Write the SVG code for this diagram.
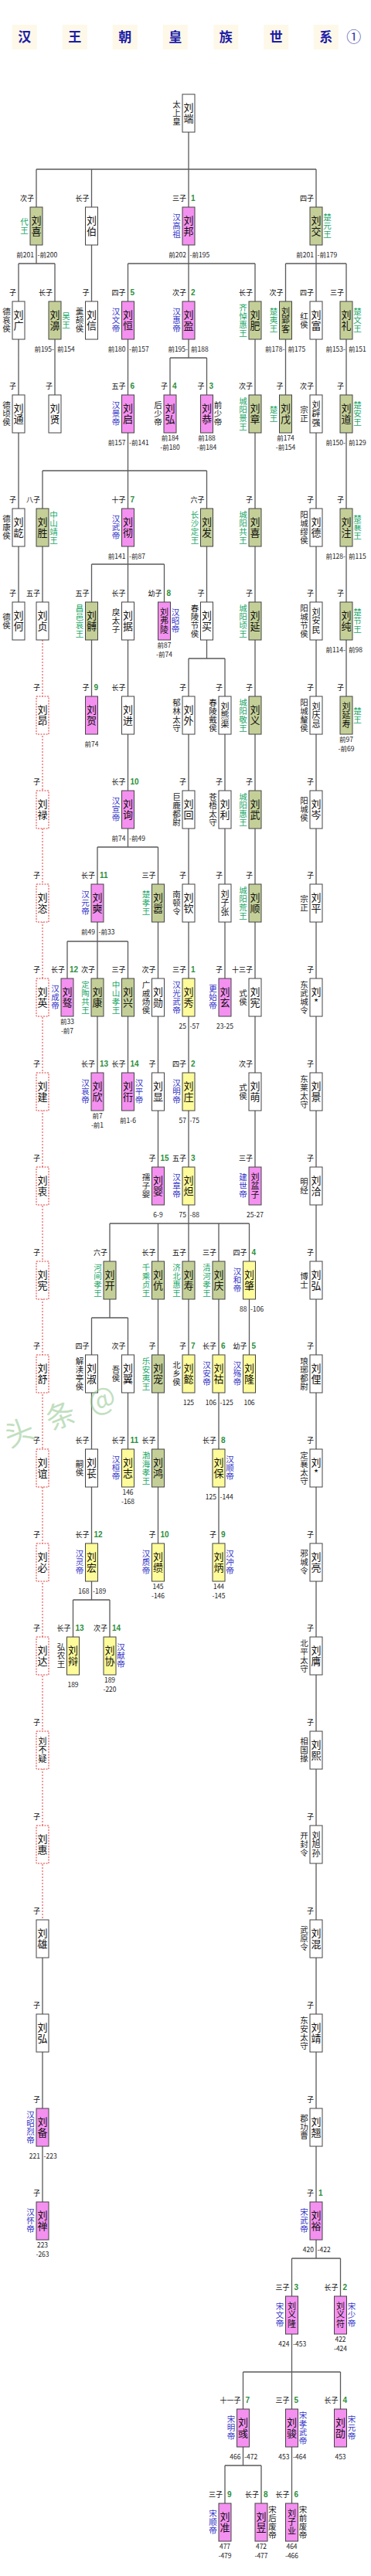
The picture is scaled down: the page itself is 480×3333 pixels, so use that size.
<svg xmlns="http://www.w3.org/2000/svg" width="480" height="3333" viewBox="0 0 480 3333">
<style>
rect{stroke:#444;stroke-width:1}
.w{fill:#fff}.p{fill:#f490f0}.g{fill:#c4cf98}.y{fill:#fdfb9a}
.d{fill:#fff;stroke:#e23a3a;stroke-dasharray:2 1.5}
text{font-family:"Noto Sans CJK SC","Liberation Sans",sans-serif}
.nm{font-size:13px;writing-mode:vertical-rl;text-orientation:upright;text-anchor:middle;fill:#111;letter-spacing:1px}
.n3{font-size:11px;letter-spacing:0.5px}
.sl{font-size:10.5px;writing-mode:vertical-rl;text-orientation:upright;text-anchor:middle;letter-spacing:0.5px}
.bk{fill:#222}.bl{fill:#3535c8}.gr{fill:#22a868}
.o{font-size:9px;text-anchor:end;fill:#111}
.num{font-size:10px;font-weight:bold;fill:#2d8f3c;font-family:"Liberation Sans",sans-serif}
.dl,.dr,.dc{font-size:8.5px;fill:#222}
.dl{text-anchor:end}.dc{text-anchor:middle}
.tt{font-size:17px;font-weight:bold;fill:#1c1ca8;text-anchor:middle;font-family:"Noto Sans CJK SC",serif}
.cell{fill:#fdf8e8;stroke:none}
</style>
<g id="title">
<rect class="cell" x="15.7" y="32" width="32" height="32"/><rect class="cell" x="80.7" y="32" width="32" height="32"/><rect class="cell" x="145.7" y="32" width="32" height="32"/><rect class="cell" x="210.7" y="32" width="32" height="32"/><rect class="cell" x="276.3" y="32" width="32" height="32"/><rect class="cell" x="341.3" y="32" width="32" height="32"/><rect class="cell" x="405.7" y="32" width="32" height="32"/>
<text class="tt" x="31.7" y="54">汉</text><text class="tt" x="96.7" y="54">王</text><text class="tt" x="161.7" y="54">朝</text><text class="tt" x="226.7" y="54">皇</text><text class="tt" x="292.3" y="54">族</text><text class="tt" x="357.3" y="54">世</text><text class="tt" x="421.7" y="54">系</text>
<text x="457.7" y="55" font-size="19" fill="#3a3aa8" text-anchor="middle" font-family="Liberation Serif,serif">①</text>
</g>
<g id="connectors" fill="none" stroke="#5a5a5a" stroke-width="1.3">
<path d="M244 171V268M47 219H409M47 219V268M118.5 219V268M409 219V268M47 317V341M24 341H71M24 341V390M71 341V390M118.5 317V390M244 317V390M165.5 341H330M165.5 341V390M330 341V390M409 317V390M369.5 341H448M369.5 341V390M448 341V390M24 439V779M71 439V511M165.5 439V1096M55 609H267.5M55 609V658M267.5 609V658M118.5 730H212.5M118.5 730V779M212.5 730V779M126 1096H204.5M126 1096V1144M204.5 1096V1144M244 439V463M220 463H267.5M220 463V511M267.5 463V511M330 439V1510M369.5 439V511M409 439V2922M377.5 2922H440.5M377.5 2922V2971M440.5 2922V2971M448 439V901M55 707V779M55 2533V2849M267.5 707V852M244 852H291M244 852V901M291 852V901M118.5 828V901M244 950V1632M142 1583H322.5M142 1583V1632M204.5 1583V1632M283 1583V1632M322.5 1583V1632M291 950V1266M126 1193V1388M87 1218H165.5M87 1218V1266M165.5 1218V1388M204.5 1193V1510M142 1681V1705M118.5 1705H165.5M118.5 1705V2070M165.5 1705V1875M204.5 1681V1997M244 1681V1753M283 1681V1997M322.5 1681V1753M94.5 2070H142M94.5 2070V2118M142 2070V2118M377.5 3020V3239M314.5 3069H440.5M314.5 3069V3190M440.5 3069V3117M291 3190H338M291 3190V3239M338 3190V3239"/>
<path d="M55 828V2484" stroke="#e23a3a" stroke-width="1" stroke-dasharray="2 2"/>
</g>
<g id="nodes">
<g id="liuduan" transform="translate(244,122)"><rect class="w" x="-8" width="16" height="49"/><text class="nm" y="24.5">刘端</text><text class="sl bk" x="-15.5" y="24.5">太上皇</text></g>
<g id="liuxi-dai" transform="translate(47,268)"><rect class="g" x="-8" width="16" height="49"/><text class="nm" y="24.5">刘喜</text><text class="sl gr" x="-15.5" y="24.5">代王</text><text class="o" x="-3" y="-8">次子</text><text class="dl" x="-3" y="65">前201</text><text class="dr" x="1.5" y="65">-前200</text></g>
<g id="liubo" transform="translate(118.5,268)"><rect class="w" x="-8" width="16" height="49"/><text class="nm" y="24.5">刘伯</text><text class="o" x="-3" y="-8">长子</text></g>
<g id="liubang" transform="translate(244,268)"><rect class="p" x="-8" width="16" height="49"/><text class="nm" y="24.5">刘邦</text><text class="sl bl" x="-15.5" y="24.5">汉高祖</text><text class="o" x="-3" y="-8">三子</text><text class="num" x="3" y="-8">1</text><text class="dl" x="-3" y="65">前202</text><text class="dr" x="1.5" y="65">-前195</text></g>
<g id="liujiao" transform="translate(409,268)"><rect class="g" x="-8" width="16" height="49"/><text class="nm" y="24.5">刘交</text><text class="sl gr" x="14.5" y="24.5">楚元王</text><text class="o" x="-3" y="-8">四子</text><text class="dl" x="-3" y="65">前201</text><text class="dr" x="1.5" y="65">-前179</text></g>

<g id="liuguang" transform="translate(24,390)"><rect class="w" x="-8" width="16" height="49"/><text class="nm" y="24.5">刘广</text><text class="sl bk" x="-15.5" y="24.5">德哀侯</text><text class="o" x="-3" y="-8">子</text></g>
<g id="liubi" transform="translate(71,390)"><rect class="g" x="-8" width="16" height="49"/><text class="nm" y="24.5">刘濞</text><text class="sl gr" x="14.5" y="24.5">吴王</text><text class="o" x="-3" y="-8">长子</text><text class="dl" x="-1" y="65">前195-</text><text class="dr" x="3" y="65">前154</text></g>
<g id="liuxin" transform="translate(118.5,390)"><rect class="w" x="-8" width="16" height="49"/><text class="nm" y="24.5">刘信</text><text class="sl bk" x="-15.5" y="24.5">羹颉侯</text><text class="o" x="-3" y="-8">子</text></g>
<g id="liuheng" transform="translate(165.5,390)"><rect class="p" x="-8" width="16" height="49"/><text class="nm" y="24.5">刘恒</text><text class="sl bl" x="-15.5" y="24.5">汉文帝</text><text class="o" x="-3" y="-8">四子</text><text class="num" x="3" y="-8">5</text><text class="dl" x="-3" y="65">前180</text><text class="dr" x="1.5" y="65">-前157</text></g>
<g id="liuying" transform="translate(244,390)"><rect class="p" x="-8" width="16" height="49"/><text class="nm" y="24.5">刘盈</text><text class="sl bl" x="-15.5" y="24.5">汉惠帝</text><text class="o" x="-3" y="-8">次子</text><text class="num" x="3" y="-8">2</text><text class="dl" x="-1" y="65">前195-</text><text class="dr" x="3" y="65">前188</text></g>
<g id="liufei" transform="translate(330,390)"><rect class="g" x="-8" width="16" height="49"/><text class="nm" y="24.5">刘肥</text><text class="sl gr" x="-15.5" y="24.5">齐悼惠王</text><text class="o" x="-3" y="-8">长子</text></g>
<g id="liuyingke" transform="translate(369.5,390)"><rect class="g" x="-8" width="16" height="49"/><text class="nm n3" y="24.5">刘郢客</text><text class="sl gr" x="-15.5" y="24.5">楚夷王</text><text class="o" x="-3" y="-8">次子</text><text class="dl" x="-1" y="65">前178-</text><text class="dr" x="3" y="65">前175</text></g>
<g id="liufu" transform="translate(409,390)"><rect class="w" x="-8" width="16" height="49"/><text class="nm" y="24.5">刘富</text><text class="sl bk" x="-15.5" y="24.5">红侯</text><text class="o" x="-3" y="-8">四子</text></g>
<g id="liuli" transform="translate(448,390)"><rect class="g" x="-8" width="16" height="49"/><text class="nm" y="24.5">刘礼</text><text class="sl gr" x="14.5" y="24.5">楚文王</text><text class="o" x="-3" y="-8">三子</text><text class="dl" x="-1" y="65">前153-</text><text class="dr" x="3" y="65">前151</text></g>

<g id="liutong" transform="translate(24,511)"><rect class="w" x="-8" width="16" height="49"/><text class="nm" y="24.5">刘通</text><text class="sl bk" x="-15.5" y="24.5">德顷侯</text><text class="o" x="-3" y="-8">子</text></g>
<g id="liuxian-wu" transform="translate(71,511)"><rect class="w" x="-8" width="16" height="49"/><text class="nm" y="24.5">刘贤</text><text class="o" x="-3" y="-8">子</text></g>
<g id="liuqi" transform="translate(165.5,511)"><rect class="p" x="-8" width="16" height="49"/><text class="nm" y="24.5">刘启</text><text class="sl bl" x="-15.5" y="24.5">汉景帝</text><text class="o" x="-3" y="-8">五子</text><text class="num" x="3" y="-8">6</text><text class="dl" x="-3" y="65">前157</text><text class="dr" x="1.5" y="65">-前141</text></g>
<g id="liuhong-hou" transform="translate(220,511)"><rect class="p" x="-8" width="16" height="49"/><text class="nm" y="24.5">刘弘</text><text class="sl bk" x="-15.5" y="24.5">后少帝</text><text class="o" x="-3" y="-8">子</text><text class="num" x="3" y="-8">4</text><text class="dc" y="59">前184</text><text class="dc" y="70.7">-前180</text></g>
<g id="liugong" transform="translate(267.5,511)"><rect class="p" x="-8" width="16" height="49"/><text class="nm" y="24.5">刘恭</text><text class="sl bk" x="14.5" y="24.5">前少帝</text><text class="o" x="-3" y="-8">子</text><text class="num" x="3" y="-8">3</text><text class="dc" y="59">前188</text><text class="dc" y="70.7">-前184</text></g>
<g id="liuzhang" transform="translate(330,511)"><rect class="g" x="-8" width="16" height="49"/><text class="nm" y="24.5">刘章</text><text class="sl gr" x="-15.5" y="24.5">城阳景王</text><text class="o" x="-3" y="-8">次子</text></g>
<g id="liuwu-chu" transform="translate(369.5,511)"><rect class="g" x="-8" width="16" height="49"/><text class="nm" y="24.5">刘戊</text><text class="sl gr" x="-15.5" y="24.5">楚王</text><text class="o" x="-3" y="-8">子</text><text class="dc" y="59">前174</text><text class="dc" y="70.7">-前154</text></g>
<g id="liupiqiang" transform="translate(409,511)"><rect class="w" x="-8" width="16" height="49"/><text class="nm n3" y="24.5">刘辟强</text><text class="sl bk" x="-15.5" y="24.5">宗正</text><text class="o" x="-3" y="-8">次子</text></g>
<g id="liudao" transform="translate(448,511)"><rect class="g" x="-8" width="16" height="49"/><text class="nm" y="24.5">刘道</text><text class="sl gr" x="14.5" y="24.5">楚安王</text><text class="o" x="-3" y="-8">子</text><text class="dl" x="-1" y="65">前150-</text><text class="dr" x="3" y="65">前129</text></g>

<g id="liuhe-kang" transform="translate(24,658)"><rect class="w" x="-8" width="16" height="49"/><text class="nm" y="24.5">刘龁</text><text class="sl bk" x="-15.5" y="24.5">德康侯</text><text class="o" x="-3" y="-8">子</text></g>
<g id="liusheng" transform="translate(55,658)"><rect class="g" x="-8" width="16" height="49"/><text class="nm" y="24.5">刘胜</text><text class="sl gr" x="14.5" y="24.5">中山靖王</text><text class="o" x="-3" y="-8">八子</text></g>
<g id="liuche" transform="translate(165.5,658)"><rect class="p" x="-8" width="16" height="49"/><text class="nm" y="24.5">刘彻</text><text class="sl bl" x="-15.5" y="24.5">汉武帝</text><text class="o" x="-3" y="-8">十子</text><text class="num" x="3" y="-8">7</text><text class="dl" x="-3" y="65">前141</text><text class="dr" x="1.5" y="65">-前87</text></g>
<g id="liufa" transform="translate(267.5,658)"><rect class="g" x="-8" width="16" height="49"/><text class="nm" y="24.5">刘发</text><text class="sl gr" x="-15.5" y="24.5">长沙定王</text><text class="o" x="-3" y="-8">六子</text></g>
<g id="liuxi-cy" transform="translate(330,658)"><rect class="g" x="-8" width="16" height="49"/><text class="nm" y="24.5">刘喜</text><text class="sl gr" x="-15.5" y="24.5">城阳共王</text><text class="o" x="-3" y="-8">子</text></g>
<g id="liude" transform="translate(409,658)"><rect class="w" x="-8" width="16" height="49"/><text class="nm" y="24.5">刘德</text><text class="sl bk" x="-15.5" y="24.5">阳城缪侯</text><text class="o" x="-3" y="-8">子</text></g>
<g id="liuzhu" transform="translate(448,658)"><rect class="g" x="-8" width="16" height="49"/><text class="nm" y="24.5">刘注</text><text class="sl gr" x="14.5" y="24.5">楚襄王</text><text class="o" x="-3" y="-8">子</text><text class="dl" x="-1" y="65">前128-</text><text class="dr" x="3" y="65">前115</text></g>

<g id="liuhe" transform="translate(24,779)"><rect class="w" x="-8" width="16" height="49"/><text class="nm" y="24.5">刘何</text><text class="sl bk" x="-15.5" y="24.5">德侯</text><text class="o" x="-3" y="-8">子</text></g>
<g id="liuzhen" transform="translate(55,779)"><rect class="w" x="-8" width="16" height="49"/><text class="nm" y="24.5">刘贞</text><text class="o" x="-3" y="-8">五子</text></g>
<g id="liubo-cy" transform="translate(118.5,779)"><rect class="g" x="-8" width="16" height="49"/><text class="nm" y="24.5">刘髆</text><text class="sl gr" x="-15.5" y="24.5">昌邑哀王</text><text class="o" x="-3" y="-8">五子</text></g>
<g id="liuju" transform="translate(165.5,779)"><rect class="w" x="-8" width="16" height="49"/><text class="nm" y="24.5">刘据</text><text class="sl bk" x="-15.5" y="24.5">戾太子</text><text class="o" x="-3" y="-8">长子</text></g>
<g id="liufuling" transform="translate(212.5,779)"><rect class="p" x="-8" width="16" height="49"/><text class="nm n3" y="24.5">刘弗陵</text><text class="sl bl" x="14.5" y="24.5">汉昭帝</text><text class="o" x="-3" y="-8">幼子</text><text class="num" x="3" y="-8">8</text><text class="dc" y="59">前87</text><text class="dc" y="70.7">-前74</text></g>
<g id="liumai" transform="translate(267.5,779)"><rect class="w" x="-8" width="16" height="49"/><text class="nm" y="24.5">刘买</text><text class="sl bk" x="-15.5" y="24.5">春陵节侯</text><text class="o" x="-3" y="-8">子</text></g>
<g id="liuyan" transform="translate(330,779)"><rect class="g" x="-8" width="16" height="49"/><text class="nm" y="24.5">刘延</text><text class="sl gr" x="-15.5" y="24.5">城阳顷王</text><text class="o" x="-3" y="-8">子</text></g>
<g id="liuanmin" transform="translate(409,779)"><rect class="w" x="-8" width="16" height="49"/><text class="nm n3" y="24.5">刘安民</text><text class="sl bk" x="-15.5" y="24.5">阳城节侯</text><text class="o" x="-3" y="-8">子</text></g>
<g id="liuchun" transform="translate(448,779)"><rect class="g" x="-8" width="16" height="49"/><text class="nm" y="24.5">刘纯</text><text class="sl gr" x="14.5" y="24.5">楚节王</text><text class="o" x="-3" y="-8">子</text><text class="dl" x="-1" y="65">前114-</text><text class="dr" x="3" y="65">前98</text></g>

<g id="liuang" transform="translate(55,901)"><rect class="d" x="-8" width="16" height="49"/><text class="nm" y="24.5">刘昂</text><text class="o" x="-3" y="-8">子</text></g>
<g id="liuhe-9" transform="translate(118.5,901)"><rect class="p" x="-8" width="16" height="49"/><text class="nm" y="24.5">刘贺</text><text class="o" x="-3" y="-8">子</text><text class="num" x="3" y="-8">9</text><text class="dc" y="65">前74</text></g>
<g id="liujin" transform="translate(165.5,901)"><rect class="w" x="-8" width="16" height="49"/><text class="nm" y="24.5">刘进</text><text class="o" x="-3" y="-8">长子</text></g>
<g id="liuwai" transform="translate(244,901)"><rect class="w" x="-8" width="16" height="49"/><text class="nm" y="24.5">刘外</text><text class="sl bk" x="-15.5" y="24.5">郁林太守</text><text class="o" x="-3" y="-8">子</text></g>
<g id="liuxiongqu" transform="translate(291,901)"><rect class="w" x="-8" width="16" height="49"/><text class="nm n3" y="24.5">刘熊渠</text><text class="sl bk" x="-15.5" y="24.5">春陵戴侯</text><text class="o" x="-3" y="-8">子</text></g>
<g id="liuyi" transform="translate(330,901)"><rect class="g" x="-8" width="16" height="49"/><text class="nm" y="24.5">刘义</text><text class="sl gr" x="-15.5" y="24.5">城阳敬王</text><text class="o" x="-3" y="-8">子</text></g>
<g id="liuqingji" transform="translate(409,901)"><rect class="w" x="-8" width="16" height="49"/><text class="nm n3" y="24.5">刘庆忌</text><text class="sl bk" x="-15.5" y="24.5">阳城釐侯</text><text class="o" x="-3" y="-8">子</text></g>
<g id="liuyanshou" transform="translate(448,901)"><rect class="g" x="-8" width="16" height="49"/><text class="nm n3" y="24.5">刘延寿</text><text class="sl gr" x="14.5" y="24.5">楚王</text><text class="o" x="-3" y="-8">子</text><text class="dc" y="59">前97</text><text class="dc" y="70.7">-前69</text></g>

<g id="liulu" transform="translate(55,1023)"><rect class="d" x="-8" width="16" height="49"/><text class="nm" y="24.5">刘禄</text><text class="o" x="-3" y="-8">子</text></g>
<g id="liuxun" transform="translate(165.5,1023)"><rect class="p" x="-8" width="16" height="49"/><text class="nm" y="24.5">刘询</text><text class="sl bl" x="-15.5" y="24.5">汉宣帝</text><text class="o" x="-3" y="-8">长子</text><text class="num" x="3" y="-8">10</text><text class="dl" x="-3" y="65">前74</text><text class="dr" x="1.5" y="65">-前49</text></g>
<g id="liuhui-jl" transform="translate(244,1023)"><rect class="w" x="-8" width="16" height="49"/><text class="nm" y="24.5">刘回</text><text class="sl bk" x="-15.5" y="24.5">巨鹿都尉</text><text class="o" x="-3" y="-8">子</text></g>
<g id="liuli-cw" transform="translate(291,1023)"><rect class="w" x="-8" width="16" height="49"/><text class="nm" y="24.5">刘利</text><text class="sl bk" x="-15.5" y="24.5">苍梧太守</text><text class="o" x="-3" y="-8">子</text></g>
<g id="liuwu" transform="translate(330,1023)"><rect class="g" x="-8" width="16" height="49"/><text class="nm" y="24.5">刘武</text><text class="sl gr" x="-15.5" y="24.5">城阳惠王</text><text class="o" x="-3" y="-8">子</text></g>
<g id="liucen" transform="translate(409,1023)"><rect class="w" x="-8" width="16" height="49"/><text class="nm" y="24.5">刘岑</text><text class="sl bk" x="-15.5" y="24.5">阳城侯</text><text class="o" x="-3" y="-8">子</text></g>

<g id="liuzi" transform="translate(55,1144)"><rect class="d" x="-8" width="16" height="49"/><text class="nm" y="24.5">刘恣</text><text class="o" x="-3" y="-8">子</text></g>
<g id="liushi" transform="translate(126,1144)"><rect class="p" x="-8" width="16" height="49"/><text class="nm" y="24.5">刘奭</text><text class="sl bl" x="-15.5" y="24.5">汉元帝</text><text class="o" x="-3" y="-8">长子</text><text class="num" x="3" y="-8">11</text><text class="dl" x="-3" y="65">前49</text><text class="dr" x="1.5" y="65">-前33</text></g>
<g id="liuxiao" transform="translate(204.5,1144)"><rect class="g" x="-8" width="16" height="49"/><text class="nm" y="24.5">刘嚣</text><text class="sl gr" x="-15.5" y="24.5">楚孝王</text><text class="o" x="-3" y="-8">三子</text></g>
<g id="liuqin" transform="translate(244,1144)"><rect class="w" x="-8" width="16" height="49"/><text class="nm" y="24.5">刘钦</text><text class="sl bk" x="-15.5" y="24.5">南顿令</text><text class="o" x="-3" y="-8">子</text></g>
<g id="liuzizhang" transform="translate(291,1144)"><rect class="w" x="-8" width="16" height="49"/><text class="nm n3" y="24.5">刘子张</text><text class="o" x="-3" y="-8">子</text></g>
<g id="liushun" transform="translate(330,1144)"><rect class="g" x="-8" width="16" height="49"/><text class="nm" y="24.5">刘顺</text><text class="sl gr" x="-15.5" y="24.5">城阳荒王</text><text class="o" x="-3" y="-8">子</text></g>
<g id="liuping" transform="translate(409,1144)"><rect class="w" x="-8" width="16" height="49"/><text class="nm" y="24.5">刘平</text><text class="sl bk" x="-15.5" y="24.5">宗正</text><text class="o" x="-3" y="-8">子</text></g>

<g id="liuying-2" transform="translate(55,1266)"><rect class="d" x="-8" width="16" height="49"/><text class="nm" y="24.5">刘英</text><text class="o" x="-3" y="-8">子</text></g>
<g id="liuao" transform="translate(87,1266)"><rect class="p" x="-8" width="16" height="49"/><text class="nm" y="24.5">刘骜</text><text class="sl bl" x="-15.5" y="24.5">汉成帝</text><text class="o" x="-3" y="-8">长子</text><text class="num" x="3" y="-8">12</text><text class="dc" y="59">前33</text><text class="dc" y="70.7">-前7</text></g>
<g id="liukang" transform="translate(126,1266)"><rect class="g" x="-8" width="16" height="49"/><text class="nm" y="24.5">刘康</text><text class="sl gr" x="-15.5" y="24.5">定陶共王</text><text class="o" x="-3" y="-8">次子</text></g>
<g id="liuxing" transform="translate(165.5,1266)"><rect class="g" x="-8" width="16" height="49"/><text class="nm" y="24.5">刘兴</text><text class="sl gr" x="-15.5" y="24.5">中山孝王</text><text class="o" x="-3" y="-8">三子</text></g>
<g id="liuxun-gq" transform="translate(204.5,1266)"><rect class="w" x="-8" width="16" height="49"/><text class="nm" y="24.5">刘勋</text><text class="sl bk" x="-15.5" y="24.5">广戚炀侯</text><text class="o" x="-3" y="-8">次子</text></g>
<g id="liuxiu" transform="translate(244,1266)"><rect class="y" x="-8" width="16" height="49"/><text class="nm" y="24.5">刘秀</text><text class="sl bl" x="-15.5" y="24.5">汉光武帝</text><text class="o" x="-3" y="-8">三子</text><text class="num" x="3" y="-8">1</text><text class="dl" x="-3" y="65">25</text><text class="dr" x="1.5" y="65">-57</text></g>
<g id="liuxuan" transform="translate(291,1266)"><rect class="p" x="-8" width="16" height="49"/><text class="nm" y="24.5">刘玄</text><text class="sl bl" x="-15.5" y="24.5">更始帝</text><text class="o" x="-3" y="-8">子</text><text class="dc" y="65">23-25</text></g>
<g id="liuxian-shi" transform="translate(330,1266)"><rect class="w" x="-8" width="16" height="49"/><text class="nm" y="24.5">刘宪</text><text class="sl bk" x="-15.5" y="24.5">式侯</text><text class="o" x="-3" y="-8">十三子</text></g>
<g id="liu-star-1" transform="translate(409,1266)"><rect class="w" x="-8" width="16" height="49"/><text class="nm" y="24.5">刘*</text><text class="sl bk" x="-15.5" y="24.5">东武城令</text><text class="o" x="-3" y="-8">子</text></g>

<g id="liujian" transform="translate(55,1388)"><rect class="d" x="-8" width="16" height="49"/><text class="nm" y="24.5">刘建</text><text class="o" x="-3" y="-8">子</text></g>
<g id="liuxin-ai" transform="translate(126,1388)"><rect class="p" x="-8" width="16" height="49"/><text class="nm" y="24.5">刘欣</text><text class="sl bl" x="-15.5" y="24.5">汉哀帝</text><text class="o" x="-3" y="-8">长子</text><text class="num" x="3" y="-8">13</text><text class="dc" y="59">前7</text><text class="dc" y="70.7">-前1</text></g>
<g id="liukan" transform="translate(165.5,1388)"><rect class="p" x="-8" width="16" height="49"/><text class="nm" y="24.5">刘衎</text><text class="sl bl" x="14.5" y="24.5">汉平帝</text><text class="o" x="-3" y="-8">长子</text><text class="num" x="3" y="-8">14</text><text class="dc" y="65">前1-6</text></g>
<g id="liuxian-2" transform="translate(204.5,1388)"><rect class="w" x="-8" width="16" height="49"/><text class="nm" y="24.5">刘显</text><text class="o" x="-3" y="-8">子</text></g>
<g id="liuzhuang" transform="translate(244,1388)"><rect class="y" x="-8" width="16" height="49"/><text class="nm" y="24.5">刘庄</text><text class="sl bl" x="-15.5" y="24.5">汉明帝</text><text class="o" x="-3" y="-8">四子</text><text class="num" x="3" y="-8">2</text><text class="dl" x="-3" y="65">57</text><text class="dr" x="1.5" y="65">-75</text></g>
<g id="liumeng" transform="translate(330,1388)"><rect class="w" x="-8" width="16" height="49"/><text class="nm" y="24.5">刘萌</text><text class="sl bk" x="-15.5" y="24.5">式侯</text><text class="o" x="-3" y="-8">次子</text></g>
<g id="liujing" transform="translate(409,1388)"><rect class="w" x="-8" width="16" height="49"/><text class="nm" y="24.5">刘景</text><text class="sl bk" x="-15.5" y="24.5">东莱太守</text><text class="o" x="-3" y="-8">子</text></g>

<g id="liuzhong" transform="translate(55,1510)"><rect class="d" x="-8" width="16" height="49"/><text class="nm" y="24.5">刘衷</text><text class="o" x="-3" y="-8">子</text></g>
<g id="liuying-ruzi" transform="translate(204.5,1510)"><rect class="p" x="-8" width="16" height="49"/><text class="nm" y="24.5">刘婴</text><text class="sl bk" x="-15.5" y="24.5">孺子婴</text><text class="o" x="-3" y="-8">子</text><text class="num" x="3" y="-8">15</text><text class="dc" y="65">6-9</text></g>
<g id="liuda" transform="translate(244,1510)"><rect class="y" x="-8" width="16" height="49"/><text class="nm" y="24.5">刘炟</text><text class="sl bl" x="-15.5" y="24.5">汉章帝</text><text class="o" x="-3" y="-8">五子</text><text class="num" x="3" y="-8">3</text><text class="dl" x="-3" y="65">75</text><text class="dr" x="1.5" y="65">-88</text></g>
<g id="liupenzi" transform="translate(330,1510)"><rect class="p" x="-8" width="16" height="49"/><text class="nm n3" y="24.5">刘盆子</text><text class="sl bl" x="-15.5" y="24.5">建世帝</text><text class="o" x="-3" y="-8">三子</text><text class="dc" y="65">25-27</text></g>
<g id="liuqia" transform="translate(409,1510)"><rect class="w" x="-8" width="16" height="49"/><text class="nm" y="24.5">刘洽</text><text class="sl bk" x="-15.5" y="24.5">明经</text><text class="o" x="-3" y="-8">子</text></g>

<g id="liuxian-3" transform="translate(55,1632)"><rect class="d" x="-8" width="16" height="49"/><text class="nm" y="24.5">刘宪</text><text class="o" x="-3" y="-8">子</text></g>
<g id="liukai" transform="translate(142,1632)"><rect class="g" x="-8" width="16" height="49"/><text class="nm" y="24.5">刘开</text><text class="sl gr" x="-15.5" y="24.5">河间孝王</text><text class="o" x="-3" y="-8">六子</text></g>
<g id="liukang-2" transform="translate(204.5,1632)"><rect class="g" x="-8" width="16" height="49"/><text class="nm" y="24.5">刘伉</text><text class="sl gr" x="-15.5" y="24.5">千乘贞王</text><text class="o" x="-3" y="-8">长子</text></g>
<g id="liushou" transform="translate(244,1632)"><rect class="g" x="-8" width="16" height="49"/><text class="nm" y="24.5">刘寿</text><text class="sl gr" x="-15.5" y="24.5">济北惠王</text><text class="o" x="-3" y="-8">五子</text></g>
<g id="liuqing" transform="translate(283,1632)"><rect class="g" x="-8" width="16" height="49"/><text class="nm" y="24.5">刘庆</text><text class="sl gr" x="-15.5" y="24.5">清河孝王</text><text class="o" x="-3" y="-8">三子</text></g>
<g id="liuzhao" transform="translate(322.5,1632)"><rect class="y" x="-8" width="16" height="49"/><text class="nm" y="24.5">刘肇</text><text class="sl bl" x="-15.5" y="24.5">汉和帝</text><text class="o" x="-3" y="-8">四子</text><text class="num" x="3" y="-8">4</text><text class="dl" x="-3" y="65">88</text><text class="dr" x="1.5" y="65">-106</text></g>
<g id="liuhong-bs" transform="translate(409,1632)"><rect class="w" x="-8" width="16" height="49"/><text class="nm" y="24.5">刘弘</text><text class="sl bk" x="-15.5" y="24.5">博士</text><text class="o" x="-3" y="-8">子</text></g>

<g id="liushu" transform="translate(55,1753)"><rect class="d" x="-8" width="16" height="49"/><text class="nm" y="24.5">刘舒</text><text class="o" x="-3" y="-8">子</text></g>
<g id="liushu-jd" transform="translate(118.5,1753)"><rect class="w" x="-8" width="16" height="49"/><text class="nm" y="24.5">刘淑</text><text class="sl bk" x="-15.5" y="24.5">解渎亭侯</text><text class="o" x="-3" y="-8">四子</text></g>
<g id="liuyi-wu" transform="translate(165.5,1753)"><rect class="w" x="-8" width="16" height="49"/><text class="nm" y="24.5">刘翼</text><text class="sl bk" x="-15.5" y="24.5">吾侯</text><text class="o" x="-3" y="-8">次子</text></g>
<g id="liuchong" transform="translate(204.5,1753)"><rect class="g" x="-8" width="16" height="49"/><text class="nm" y="24.5">刘宠</text><text class="sl gr" x="-15.5" y="24.5">乐安夷王</text><text class="o" x="-3" y="-8">子</text></g>
<g id="liuyi-bx" transform="translate(244,1753)"><rect class="y" x="-8" width="16" height="49"/><text class="nm" y="24.5">刘懿</text><text class="sl bk" x="-15.5" y="24.5">北乡侯</text><text class="o" x="-3" y="-8">子</text><text class="num" x="3" y="-8">7</text><text class="dc" y="65">125</text></g>
<g id="liuhu" transform="translate(283,1753)"><rect class="y" x="-8" width="16" height="49"/><text class="nm" y="24.5">刘祜</text><text class="sl bl" x="-15.5" y="24.5">汉安帝</text><text class="o" x="-3" y="-8">长子</text><text class="num" x="3" y="-8">6</text><text class="dl" x="-3" y="65">106</text><text class="dr" x="1.5" y="65">-125</text></g>
<g id="liulong" transform="translate(322.5,1753)"><rect class="y" x="-8" width="16" height="49"/><text class="nm" y="24.5">刘隆</text><text class="sl bl" x="-15.5" y="24.5">汉殇帝</text><text class="o" x="-3" y="-8">幼子</text><text class="num" x="3" y="-8">5</text><text class="dc" y="65">106</text></g>
<g id="liuli-ly" transform="translate(409,1753)"><rect class="w" x="-8" width="16" height="49"/><text class="nm" y="24.5">刘俚</text><text class="sl bk" x="-15.5" y="24.5">琅琊都尉</text><text class="o" x="-3" y="-8">子</text></g>

<g id="liuyi-4" transform="translate(55,1875)"><rect class="d" x="-8" width="16" height="49"/><text class="nm" y="24.5">刘谊</text><text class="o" x="-3" y="-8">子</text></g>
<g id="liuchang" transform="translate(118.5,1875)"><rect class="w" x="-8" width="16" height="49"/><text class="nm" y="24.5">刘苌</text><text class="sl bk" x="-15.5" y="24.5">嗣侯</text><text class="o" x="-3" y="-8">长子</text></g>
<g id="liuzhi" transform="translate(165.5,1875)"><rect class="y" x="-8" width="16" height="49"/><text class="nm" y="24.5">刘志</text><text class="sl bl" x="-15.5" y="24.5">汉桓帝</text><text class="o" x="-3" y="-8">长子</text><text class="num" x="3" y="-8">11</text><text class="dc" y="59">146</text><text class="dc" y="70.7">-168</text></g>
<g id="liuhong-bh" transform="translate(204.5,1875)"><rect class="g" x="-8" width="16" height="49"/><text class="nm" y="24.5">刘鸿</text><text class="sl gr" x="-15.5" y="24.5">渤海孝王</text><text class="o" x="-3" y="-8">长子</text></g>
<g id="liubao" transform="translate(283,1875)"><rect class="y" x="-8" width="16" height="49"/><text class="nm" y="24.5">刘保</text><text class="sl bl" x="14.5" y="24.5">汉顺帝</text><text class="o" x="-3" y="-8">长子</text><text class="num" x="3" y="-8">8</text><text class="dl" x="-3" y="65">125</text><text class="dr" x="1.5" y="65">-144</text></g>
<g id="liu-star-2" transform="translate(409,1875)"><rect class="w" x="-8" width="16" height="49"/><text class="nm" y="24.5">刘*</text><text class="sl bk" x="-15.5" y="24.5">定襄太守</text><text class="o" x="-3" y="-8">子</text></g>

<g id="liubi-2" transform="translate(55,1997)"><rect class="d" x="-8" width="16" height="49"/><text class="nm" y="24.5">刘必</text><text class="o" x="-3" y="-8">子</text></g>
<g id="liuhong-ling" transform="translate(118.5,1997)"><rect class="y" x="-8" width="16" height="49"/><text class="nm" y="24.5">刘宏</text><text class="sl bl" x="-15.5" y="24.5">汉灵帝</text><text class="o" x="-3" y="-8">长子</text><text class="num" x="3" y="-8">12</text><text class="dl" x="-3" y="65">168</text><text class="dr" x="1.5" y="65">-189</text></g>
<g id="liuzuan" transform="translate(204.5,1997)"><rect class="y" x="-8" width="16" height="49"/><text class="nm" y="24.5">刘缵</text><text class="sl bl" x="-15.5" y="24.5">汉质帝</text><text class="o" x="-3" y="-8">子</text><text class="num" x="3" y="-8">10</text><text class="dc" y="59">145</text><text class="dc" y="70.7">-146</text></g>
<g id="liubing" transform="translate(283,1997)"><rect class="y" x="-8" width="16" height="49"/><text class="nm" y="24.5">刘炳</text><text class="sl bl" x="14.5" y="24.5">汉冲帝</text><text class="o" x="-3" y="-8">子</text><text class="num" x="3" y="-8">9</text><text class="dc" y="59">144</text><text class="dc" y="70.7">-145</text></g>
<g id="liuliang" transform="translate(409,1997)"><rect class="w" x="-8" width="16" height="49"/><text class="nm" y="24.5">刘亮</text><text class="sl bk" x="-15.5" y="24.5">邪城令</text><text class="o" x="-3" y="-8">子</text></g>

<g id="liuda-2" transform="translate(55,2118)"><rect class="d" x="-8" width="16" height="49"/><text class="nm" y="24.5">刘达</text><text class="o" x="-3" y="-8">子</text></g>
<g id="liubian" transform="translate(94.5,2118)"><rect class="y" x="-8" width="16" height="49"/><text class="nm" y="24.5">刘辩</text><text class="sl bk" x="-15.5" y="24.5">弘农王</text><text class="o" x="-3" y="-8">长子</text><text class="num" x="3" y="-8">13</text><text class="dc" y="65">189</text></g>
<g id="liuxie" transform="translate(142,2118)"><rect class="y" x="-8" width="16" height="49"/><text class="nm" y="24.5">刘协</text><text class="sl bl" x="14.5" y="24.5">汉献帝</text><text class="o" x="-3" y="-8">次子</text><text class="num" x="3" y="-8">14</text><text class="dc" y="59">189</text><text class="dc" y="70.7">-220</text></g>
<g id="liuying-bp" transform="translate(409,2118)"><rect class="w" x="-8" width="16" height="49"/><text class="nm" y="24.5">刘膺</text><text class="sl bk" x="-15.5" y="24.5">北平太守</text><text class="o" x="-3" y="-8">子</text></g>

<g id="liubuyi" transform="translate(55,2240)"><rect class="d" x="-8" width="16" height="49"/><text class="nm n3" y="24.5">刘不疑</text><text class="o" x="-3" y="-8">子</text></g>
<g id="liuxi-xg" transform="translate(409,2240)"><rect class="w" x="-8" width="16" height="49"/><text class="nm" y="24.5">刘熙</text><text class="sl bk" x="-15.5" y="24.5">相国掾</text><text class="o" x="-3" y="-8">子</text></g>
<g id="liuhui" transform="translate(55,2362)"><rect class="d" x="-8" width="16" height="49"/><text class="nm" y="24.5">刘惠</text><text class="o" x="-3" y="-8">子</text></g>
<g id="liuxusun" transform="translate(409,2362)"><rect class="w" x="-8" width="16" height="49"/><text class="nm n3" y="24.5">刘旭孙</text><text class="sl bk" x="-15.5" y="24.5">开封令</text><text class="o" x="-3" y="-8">子</text></g>
<g id="liuxiong" transform="translate(55,2484)"><rect class="w" x="-8" width="16" height="49"/><text class="nm" y="24.5">刘雄</text><text class="o" x="-3" y="-8">子</text></g>
<g id="liuhun" transform="translate(409,2484)"><rect class="w" x="-8" width="16" height="49"/><text class="nm" y="24.5">刘混</text><text class="sl bk" x="-15.5" y="24.5">武原令</text><text class="o" x="-3" y="-8">子</text></g>
<g id="liuhong-5" transform="translate(55,2606)"><rect class="w" x="-8" width="16" height="49"/><text class="nm" y="24.5">刘弘</text><text class="o" x="-3" y="-8">子</text></g>
<g id="liujing-da" transform="translate(409,2606)"><rect class="w" x="-8" width="16" height="49"/><text class="nm" y="24.5">刘靖</text><text class="sl bk" x="-15.5" y="24.5">东安太守</text><text class="o" x="-3" y="-8">子</text></g>
<g id="liubei" transform="translate(55,2728)"><rect class="p" x="-8" width="16" height="49"/><text class="nm" y="24.5">刘备</text><text class="sl bl" x="-15.5" y="24.5">汉昭烈帝</text><text class="o" x="-3" y="-8">子</text><text class="dl" x="-3" y="65">221</text><text class="dr" x="1.5" y="65">-223</text></g>
<g id="liuqiao" transform="translate(409,2728)"><rect class="w" x="-8" width="16" height="49"/><text class="nm" y="24.5">刘翘</text><text class="sl bk" x="-15.5" y="24.5">郡功曹</text><text class="o" x="-3" y="-8">子</text></g>
<g id="liushan" transform="translate(55,2849)"><rect class="p" x="-8" width="16" height="49"/><text class="nm" y="24.5">刘禅</text><text class="sl bl" x="-15.5" y="24.5">汉怀帝</text><text class="o" x="-3" y="-8">子</text><text class="dc" y="59">223</text><text class="dc" y="70.7">-263</text></g>
<g id="liuyu" transform="translate(409,2849)"><rect class="p" x="-8" width="16" height="49"/><text class="nm" y="24.5">刘裕</text><text class="sl bl" x="-15.5" y="24.5">宋武帝</text><text class="o" x="-3" y="-8">子</text><text class="num" x="3" y="-8">1</text><text class="dl" x="-3" y="65">420</text><text class="dr" x="1.5" y="65">-422</text></g>

<g id="liuyilong" transform="translate(377.5,2971)"><rect class="p" x="-8" width="16" height="49"/><text class="nm n3" y="24.5">刘义隆</text><text class="sl bl" x="-15.5" y="24.5">宋文帝</text><text class="o" x="-3" y="-8">三子</text><text class="num" x="3" y="-8">3</text><text class="dl" x="-3" y="65">424</text><text class="dr" x="1.5" y="65">-453</text></g>
<g id="liuyifu" transform="translate(440.5,2971)"><rect class="p" x="-8" width="16" height="49"/><text class="nm n3" y="24.5">刘义符</text><text class="sl bl" x="14.5" y="24.5">宋少帝</text><text class="o" x="-3" y="-8">长子</text><text class="num" x="3" y="-8">2</text><text class="dc" y="59">422</text><text class="dc" y="70.7">-424</text></g>
<g id="liuyu-ming" transform="translate(314.5,3117)"><rect class="p" x="-8" width="16" height="49"/><text class="nm" y="24.5">刘彧</text><text class="sl bl" x="-15.5" y="24.5">宋明帝</text><text class="o" x="-3" y="-8">十一子</text><text class="num" x="3" y="-8">7</text><text class="dl" x="-3" y="65">466</text><text class="dr" x="1.5" y="65">-472</text></g>
<g id="liujun" transform="translate(377.5,3117)"><rect class="p" x="-8" width="16" height="49"/><text class="nm" y="24.5">刘骏</text><text class="sl bl" x="14.5" y="24.5">宋孝武帝</text><text class="o" x="-3" y="-8">三子</text><text class="num" x="3" y="-8">5</text><text class="dl" x="-3" y="65">453</text><text class="dr" x="1.5" y="65">-464</text></g>
<g id="liushao" transform="translate(440.5,3117)"><rect class="p" x="-8" width="16" height="49"/><text class="nm" y="24.5">刘劭</text><text class="sl bl" x="14.5" y="24.5">宋元帝</text><text class="o" x="-3" y="-8">长子</text><text class="num" x="3" y="-8">4</text><text class="dc" y="65">453</text></g>
<g id="liuzhun" transform="translate(291,3239)"><rect class="p" x="-8" width="16" height="49"/><text class="nm" y="24.5">刘准</text><text class="sl bl" x="-15.5" y="24.5">宋顺帝</text><text class="o" x="-3" y="-8">三子</text><text class="num" x="3" y="-8">9</text><text class="dc" y="59">477</text><text class="dc" y="70.7">-479</text></g>
<g id="liuyu-hf" transform="translate(338,3239)"><rect class="p" x="-8" width="16" height="49"/><text class="nm" y="24.5">刘昱</text><text class="sl bk" x="14.5" y="24.5">宋后废帝</text><text class="o" x="-3" y="-8">长子</text><text class="num" x="3" y="-8">8</text><text class="dc" y="59">472</text><text class="dc" y="70.7">-477</text></g>
<g id="liuziye" transform="translate(377.5,3239)"><rect class="p" x="-8" width="16" height="49"/><text class="nm n3" y="24.5">刘子业</text><text class="sl bk" x="14.5" y="24.5">宋前废帝</text><text class="o" x="-3" y="-8">长子</text><text class="num" x="3" y="-8">6</text><text class="dc" y="59">464</text><text class="dc" y="70.7">-466</text></g>
</g>
<text x="6" y="1858" transform="rotate(-22 6 1858)" font-size="38" letter-spacing="20" fill="#8cc488" fill-opacity="0.55" dominant-baseline="central" font-family="Noto Sans CJK SC,sans-serif">头条@</text>
</svg>
